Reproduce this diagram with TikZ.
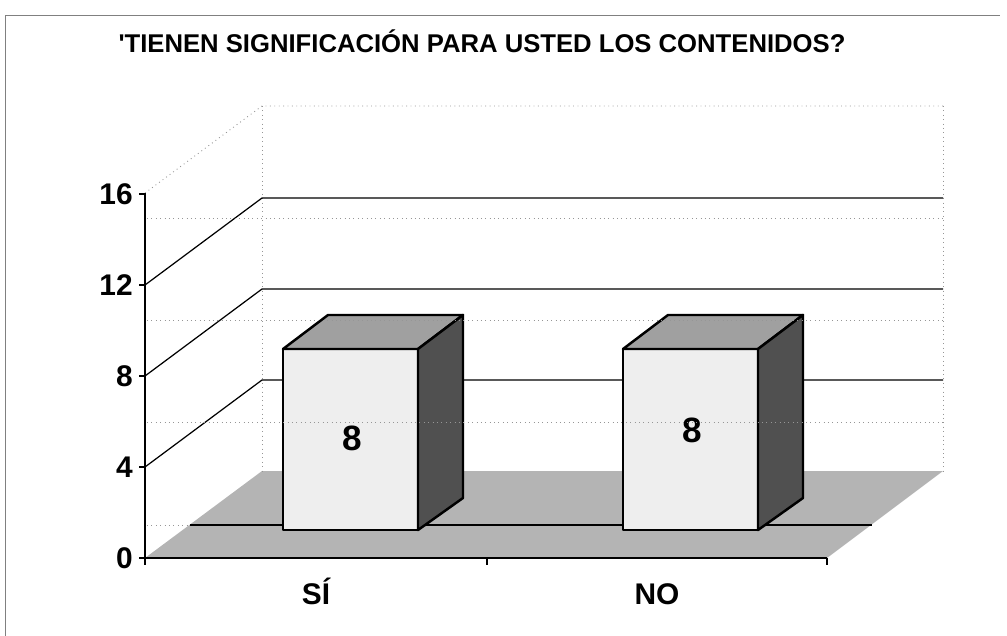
\documentclass[tikz,border=0pt]{standalone}
\usepackage{fontspec}
\setmainfont{Liberation Sans}[Ligatures=TeXOff]
\definecolor{floorGray}{RGB}{180,180,180}
\definecolor{faceGray}{RGB}{238,238,238}
\definecolor{topGray}{RGB}{160,160,160}
\definecolor{sideGray}{RGB}{80,80,80}
\definecolor{dotGray}{RGB}{150,150,150}
\usetikzlibrary{positioning,calc}

\begin{document}
\begin{tikzpicture}[x=0.2mm,y=-0.2mm,
                ticklabel/.style={font=\fontsize{17}{17}\selectfont\bfseries,anchor=east,inner sep=0pt},
                catlabel/.style={font=\fontsize{17}{17}\selectfont\bfseries,anchor=base,inner sep=0pt},
                barvalue/.style={font=\fontsize{20}{20}\selectfont\bfseries,anchor=base,inner sep=0pt},
                gridline/.style={line width=0.7pt},
                dotline/.style={dotGray,dotted,line width=0.5pt},
                baredge/.style={line width=1.4pt,line join=round}
            ]
                \useasboundingbox (0,0) rectangle (1007,636);
                \draw[gray,line width=0.4pt] (5,636) -- (5,15) -- (1000,15);
                \node[font=\fontsize{14.6}{14.6}\selectfont\bfseries,anchor=base,inner sep=0pt] (title) at (482,53) {'TIENEN SIGNIFICACIÓN PARA USTED LOS CONTENIDOS?};
                
                % walls and floor
                \fill[floorGray] (145,558) -- (827,558) -- (943,471) -- (262,471) -- cycle;
                \draw[dotline] (145,193) -- (262,106) -- (943,106);
                \draw[dotline] (262,106) -- (262,471) (943,106) -- (943,471);
                \foreach \v in {4,8,12}
                    \draw[gridline] (145,{558-22.75*\v}) -- (262,{471-22.75*\v}) -- (943,{471-22.75*\v});
                \draw[gridline] (190,525) -- (872,525);
                
                % axis
                \draw[line width=0.8pt] (145,193) -- (145,558) -- (827,558);
                \foreach \v in {0,4,8,12,16} {
                    \draw[line width=0.8pt] (139,{558-22.75*\v}) -- (145,{558-22.75*\v});
                    \node[ticklabel] (tick\v) at (133,{558-22.75*\v}) {\v};
                }
                \foreach \x in {145,487,827}
                    \draw[line width=0.8pt] (\x,558) -- (\x,565);
                
                % bars
                \foreach \bx/\vy/\name in {283/450/si,623/442/no} {
                    \filldraw[baredge,fill=faceGray] (\bx,530) rectangle ({\bx+135},349);
                    \filldraw[baredge,fill=topGray] (\bx,349) -- ({\bx+45},315) -- ({\bx+180},315) -- ({\bx+135},349) -- cycle;
                    \filldraw[baredge,fill=sideGray] ({\bx+135},349) -- ({\bx+180},315) -- ({\bx+180},498) -- ({\bx+135},530) -- cycle;
                    \node[barvalue] (val\name) at ({\bx+69},\vy) {8};
                }
                \foreach \y in {218,320,422}
                    \draw[dotline] (147,\y) -- (943,\y);
                \draw[dotline] (147,525) -- (190,525);
                
                \node[catlabel] (catsi) at (316,604) {SÍ};
                \node[catlabel] (catno) at (657,604) {NO};
            \end{tikzpicture}
\end{document}
